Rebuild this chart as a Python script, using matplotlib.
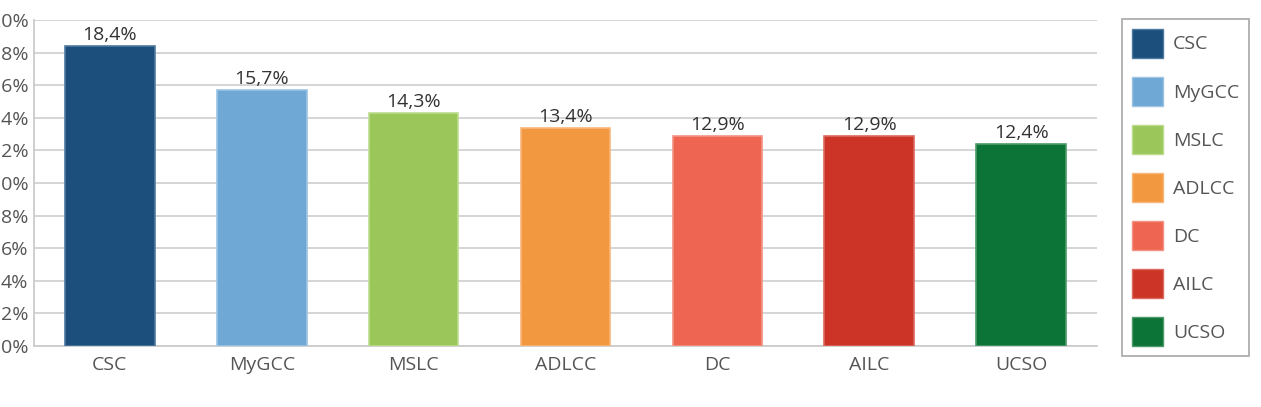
import matplotlib
matplotlib.use("Agg")
import matplotlib.pyplot as plt
from matplotlib.patches import Patch

# data
categories = ["CSC", "MyGCC", "MSLC", "ADLCC", "DC", "AILC", "UCSO"]
values = [18.4, 15.7, 14.3, 13.4, 12.9, 12.9, 12.4]
colors = ["#1c4f7c", "#6fa7d5", "#9bc75a", "#f29840", "#ee6551", "#cb3427", "#0b7436"]
edges = ["#4f7aa0", "#9cc4e4", "#bcdc8c", "#f7b77a", "#f39383", "#dc6a5e", "#4c9a6a"]
y_ticks = [0, 2, 4, 6, 8, 10, 12, 14, 16, 18, 20]

plt.rcParams["font.family"] = ["Open Sans", "DejaVu Sans"]
FS = 14

fig = plt.figure(figsize=(12.61, 4.07), dpi=100)
ax = fig.add_axes([34 / 1261, 1 - 346 / 407, (1097 - 34) / 1261, (346 - 20) / 407])

x = range(len(categories))
bars = ax.bar(x, values, width=0.59, color=colors, edgecolor=edges, linewidth=1.2, zorder=3)

for xi, v in zip(x, values):
    ax.text(xi, v + 0.1, ("%.1f%%" % v).replace(".", ","), ha="center", va="bottom",
            fontsize=FS, color="#333333", zorder=4)

ax.set_xlim(-0.5, len(categories) - 0.5)
ax.set_ylim(0, 20)
ax.set_yticks(y_ticks)
ax.set_yticklabels(["%d%%" % t for t in y_ticks])
ax.set_xticks(list(x))
ax.set_xticklabels(categories)
ax.tick_params(axis="both", length=0, labelsize=FS, labelcolor="#555555")
ax.tick_params(axis="y", pad=4)
ax.tick_params(axis="x", pad=7)
ax.grid(axis="y", color="#d2d2d2", linewidth=1.3, zorder=0)

for side in ["top", "right"]:
    ax.spines[side].set_visible(False)
ax.spines["left"].set_color("#cccccc")
ax.spines["bottom"].set_color("#cccccc")
ax.spines["left"].set_linewidth(1.3)
ax.spines["bottom"].set_linewidth(1.3)

handles = [Patch(facecolor=c, edgecolor=e, label=n) for c, e, n in zip(colors, edges, categories)]
leg = fig.legend(handles=handles, loc="upper left", bbox_to_anchor=(1122 / 1261, 1 - 19 / 407),
                 frameon=True, fancybox=False, fontsize=FS, handlelength=1.6, handleheight=1.92,
                 labelspacing=0.98, handletextpad=0.52, borderpad=0.5, borderaxespad=0,
                 labelcolor="#555555")
leg.get_frame().set_edgecolor("#999999")
leg.get_frame().set_linewidth(1.3)

fig.savefig("out.png", dpi=100)
